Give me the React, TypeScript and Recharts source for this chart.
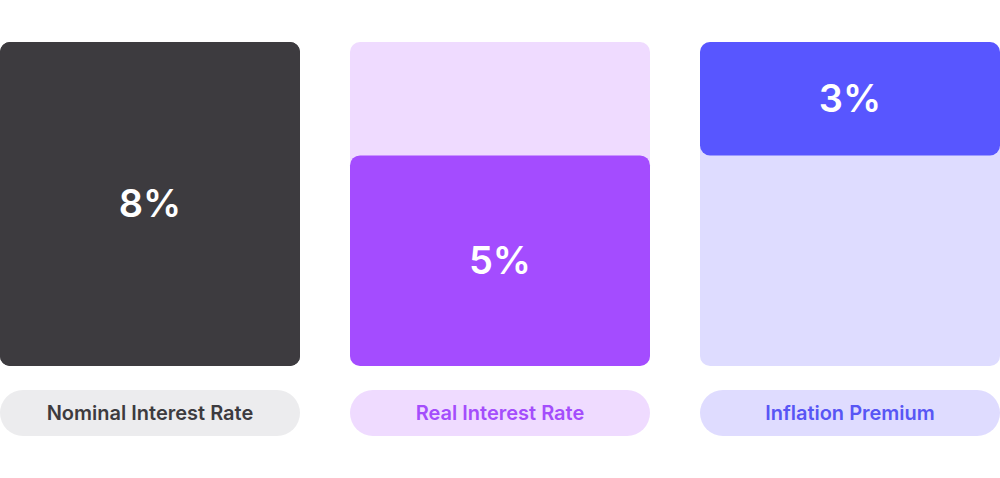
import { BarChart, Bar, XAxis, YAxis, Cell, LabelList } from 'recharts'

const categories = ['Nominal Interest Rate', 'Real Interest Rate', 'Inflation Premium']
const rateLabels = ['8%', '5%', '3%']
// drawn bar extents, in rate points (the track is the full 8%)
const trackValue = [8, 8, 8]
const segmentLow = [0, 0, 5.2]
const segmentHigh = [8, 5.2, 8]

const trackColors = ['#3d3b3f', '#efdbff', '#dedcff']
const barColors = ['#3d3b3f', '#a44cff', '#5856ff']
const pillColors = ['#ececee', '#efdbff', '#dfdcff']
const pillText = ['#3d3b3f', '#a44dfc', '#5856f5']

const data = categories.map((name, i) => ({
  name,
  track: trackValue[i],
  seg: [segmentLow[i], segmentHigh[i]],
  label: rateLabels[i],
}))

const FONT = 'Inter, "Noto Sans", sans-serif'

const PillTick = ({ x, y, payload }: any) => {
  const i = payload.index
  return (
    <g>
      <rect x={x - 150} y={y + 24} width={300} height={46} rx={23} fill={pillColors[i]} />
      <text x={x} y={y + 47} dy="0.35em" textAnchor="middle" fill={pillText[i]}
        fontFamily={FONT} fontSize={20} fontWeight={600}>
        {payload.value}
      </text>
    </g>
  )
}

const CenterLabel = ({ x, y, width, height, index }: any) => (
  <text x={x + width / 2} y={y + height / 2} dy="0.35em" textAnchor="middle" fill="#ffffff"
    fontFamily={FONT} fontSize={38} fontWeight={600}>
    {rateLabels[index]}
  </text>
)

export default function App() {
  return (
    <div style={{ position: 'absolute', left: 0, top: 0, width: 1000, height: 478, background: '#ffffff' }}>
      <BarChart width={1000} height={478} data={data} barSize={300} barGap={-300}
        margin={{ top: 42, right: -25, bottom: 0, left: -25 }}>
        <XAxis dataKey="name" axisLine={false} tickLine={false} tickSize={0} tickMargin={0}
          height={112} tick={<PillTick />} interval={0} />
        <YAxis hide domain={[0, 8]} />
        <Bar dataKey="track" radius={10} isAnimationActive={false}>
          {data.map((_, i) => <Cell key={i} fill={trackColors[i]} />)}
        </Bar>
        <Bar dataKey="seg" radius={10} isAnimationActive={false}>
          {data.map((_, i) => <Cell key={i} fill={barColors[i]} />)}
          <LabelList dataKey="label" content={<CenterLabel />} />
        </Bar>
      </BarChart>
    </div>
  )
}
